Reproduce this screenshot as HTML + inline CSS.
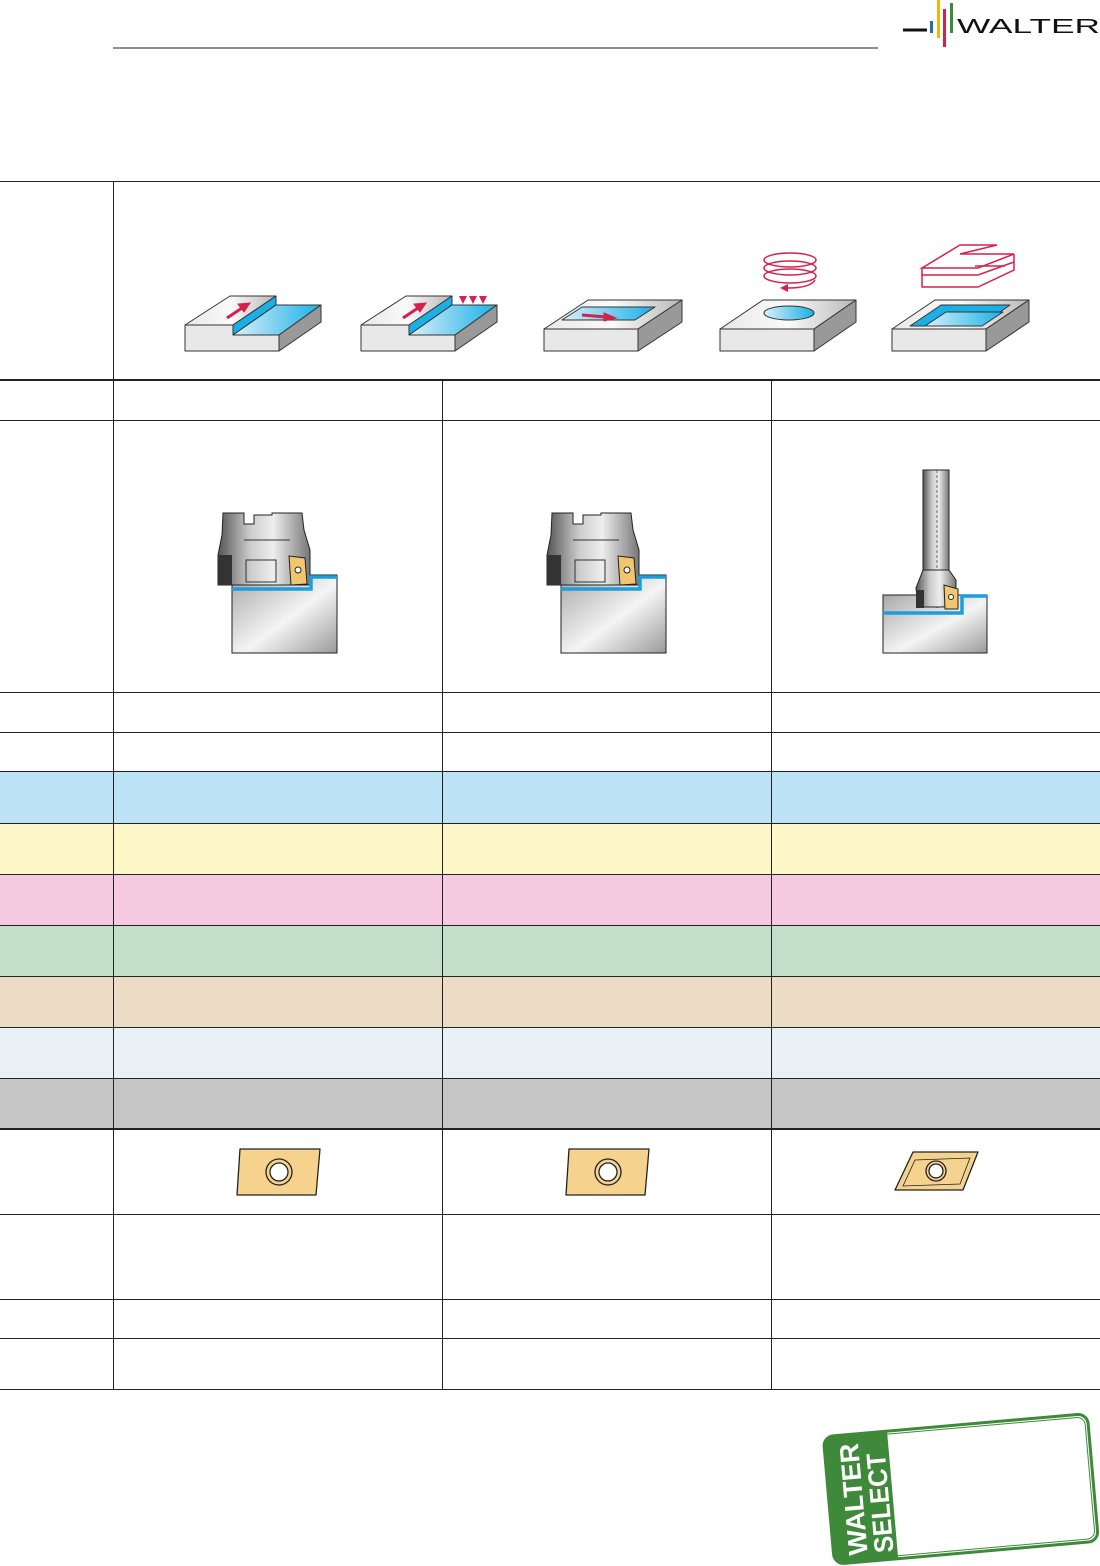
<!DOCTYPE html>
<html><head><meta charset="utf-8"><style>
html,body{margin:0;padding:0;background:#fff;width:1100px;height:1566px;overflow:hidden;font-family:"Liberation Sans",sans-serif}
</style></head><body>
<svg width="1100" height="1566" viewBox="0 0 1100 1566" xmlns="http://www.w3.org/2000/svg">
<defs>
<linearGradient id="top" x1="0" y1="0" x2="1" y2="0"><stop offset="0" stop-color="#e8e8e8"/><stop offset="0.5" stop-color="#fafafa"/><stop offset="1" stop-color="#b8b8b8"/></linearGradient>
<linearGradient id="blue" x1="0" y1="0" x2="1" y2="0"><stop offset="0" stop-color="#d8f0fb"/><stop offset="1" stop-color="#1ab0e6"/></linearGradient>
<linearGradient id="wp" x1="0" y1="0" x2="1" y2="1"><stop offset="0" stop-color="#a8a8a8"/><stop offset="0.55" stop-color="#f4f4f4"/><stop offset="1" stop-color="#9a9a9a"/></linearGradient>
<linearGradient id="metal" x1="0" y1="0" x2="1" y2="0"><stop offset="0" stop-color="#555"/><stop offset="0.35" stop-color="#ccc"/><stop offset="0.6" stop-color="#eee"/><stop offset="1" stop-color="#777"/></linearGradient>
<g id="facemill">
 <rect x="232" y="575" width="105" height="78" fill="url(#wp)" stroke="#222" stroke-width="1"/>
 <path d="M223,513 H244 V524 H254 V515 H272 V513 H302 L304,530 L310,550 V585 H218 V555 L222,535 Z" fill="url(#metal)" stroke="#222"/>
 <rect x="218" y="555" width="14" height="30" fill="#333"/>
 <rect x="246" y="560" width="30" height="22" fill="none" stroke="#333"/>
 <line x1="244" y1="540" x2="290" y2="540" stroke="#333"/>
 <path d="M289,556 L305,558 L307,584 L291,585 Z" fill="#f2c66e" stroke="#222"/>
 <circle cx="298" cy="570" r="3" fill="#fff" stroke="#222"/>
 <path d="M232,589 H311 V577 H337" fill="none" stroke="#1a9fdc" stroke-width="3.5"/>
</g>
</defs>

<!-- header -->
<line x1="113" y1="48" x2="878" y2="48" stroke="#222" stroke-width="1"/>
<line x1="903" y1="30" x2="927" y2="30" stroke="#111" stroke-width="3"/>
<rect x="930" y="21" width="3" height="12" fill="#1f6fb6"/>
<rect x="937" y="0" width="3" height="38" fill="#f3b700"/>
<rect x="943" y="9" width="3" height="38" fill="#d6214c"/>
<rect x="950" y="3" width="3" height="30" fill="#3e8a3a"/>
<text x="957" y="33" font-size="20" fill="#111" textLength="143" lengthAdjust="spacingAndGlyphs">WALTER</text>

<!-- colored rows -->
<rect x="0" y="771" width="1100" height="52" fill="#bde3f6"/>
<rect x="0" y="823" width="1100" height="51" fill="#fef8c8"/>
<rect x="0" y="874" width="1100" height="51" fill="#f5c9df"/>
<rect x="0" y="925" width="1100" height="51" fill="#c3e0c8"/>
<rect x="0" y="976" width="1100" height="51" fill="#ecdbc5"/>
<rect x="0" y="1027" width="1100" height="51" fill="#eaf1f6"/>
<rect x="0" y="1078" width="1100" height="51" fill="#c6c6c6"/>

<!-- grid -->
<g stroke="#222" stroke-width="1">
<line x1="0" y1="181.5" x2="1100" y2="181.5"/>
<line x1="0" y1="380" x2="1100" y2="380" stroke-width="2"/>
<line x1="0" y1="420.5" x2="1100" y2="420.5"/>
<line x1="0" y1="692.5" x2="1100" y2="692.5"/>
<line x1="0" y1="732.5" x2="1100" y2="732.5"/>
<line x1="0" y1="771.5" x2="1100" y2="771.5"/>
<line x1="0" y1="823.5" x2="1100" y2="823.5"/>
<line x1="0" y1="874.5" x2="1100" y2="874.5"/>
<line x1="0" y1="925.5" x2="1100" y2="925.5"/>
<line x1="0" y1="976.5" x2="1100" y2="976.5"/>
<line x1="0" y1="1027.5" x2="1100" y2="1027.5"/>
<line x1="0" y1="1078.5" x2="1100" y2="1078.5"/>
<line x1="0" y1="1129" x2="1100" y2="1129" stroke-width="2"/>
<line x1="0" y1="1214.5" x2="1100" y2="1214.5"/>
<line x1="0" y1="1299.5" x2="1100" y2="1299.5"/>
<line x1="0" y1="1338.5" x2="1100" y2="1338.5"/>
<line x1="0" y1="1389.5" x2="1100" y2="1389.5"/>
<line x1="113.5" y1="181" x2="113.5" y2="1390"/>
<line x1="442.5" y1="380" x2="442.5" y2="1390"/>
<line x1="771.5" y1="380" x2="771.5" y2="1390"/>
</g>

<!-- operation icons -->
<g stroke="#333" stroke-width="1" stroke-linejoin="round">
 <polygon points="185,325 230,296 276,296 233,325" fill="url(#top)"/>
 <polygon points="233,325 276,296 276,305 233,335" fill="#1ab0e6"/>
 <polygon points="233,335 276,305 321,305 279,335" fill="url(#blue)"/>
 <polygon points="279,335 321,305 321,322 279,351" fill="#999"/>
 <polygon points="185,325 233,325 233,335 279,335 279,351 185,351" fill="#e8e8e8"/>
 <polygon points="361,325 406,296 452,296 409,325" fill="url(#top)"/>
 <polygon points="409,325 452,296 452,305 409,335" fill="#1ab0e6"/>
 <polygon points="409,335 452,305 497,305 455,335" fill="url(#blue)"/>
 <polygon points="455,335 497,305 497,322 455,351" fill="#999"/>
 <polygon points="361,325 409,325 409,335 455,335 455,351 361,351" fill="#e8e8e8"/>
 <polygon points="544,329 588,300 682,300 638,329" fill="url(#top)"/>
 <polygon points="562,320 582,307 655,307 635,320" fill="url(#blue)"/>
 <polygon points="638,329 682,300 682,322 638,351" fill="#999"/>
 <rect x="544" y="329" width="94" height="22" fill="#e8e8e8"/>
 <polygon points="720,329 763,300 856,300 814,329" fill="url(#top)"/>
 <ellipse cx="789" cy="313" rx="25" ry="7" fill="url(#blue)"/>
 <polygon points="814,329 856,300 856,322 814,351" fill="#999"/>
 <rect x="720" y="329" width="94" height="22" fill="#e8e8e8"/>
 <polygon points="892,329 935,300 1029,300 986,329" fill="url(#top)"/>
 <polygon points="910,326 941,305 1010,305 980,326" fill="#1ab0e6"/>
 <polygon points="925,326 946,312 1003,312 982,326" fill="url(#blue)"/>
 <polygon points="986,329 1029,300 1029,322 986,351" fill="#999"/>
 <rect x="892" y="329" width="94" height="22" fill="#e8e8e8"/>
</g>
<g fill="#d6214c" stroke="#d6214c">
 <line x1="227" y1="318" x2="245" y2="306" stroke-width="3"/><polygon points="250,303 238,304 244,312"/>
 <line x1="403" y1="318" x2="421" y2="306" stroke-width="3"/><polygon points="426,303 414,304 420,312"/>
 <polygon points="459,296 467,296 463,304" stroke="none"/><polygon points="469,296 477,296 473,304" stroke="none"/><polygon points="479,296 487,296 483,304" stroke="none"/>
 <line x1="582" y1="315" x2="606" y2="317" stroke-width="3"/><polygon points="616,318 604,313 604,321"/>
 <g fill="none" stroke-width="1.5">
  <ellipse cx="790" cy="260" rx="26" ry="7"/><ellipse cx="790" cy="268" rx="26" ry="7"/><ellipse cx="790" cy="276" rx="26" ry="7"/>
  <path d="M815,280 Q810,288 788,288"/>
  <path d="M997,245 H960 L922,268 H978 L1014,254 H960 Z"/>
  <path d="M922,268 V275 H978 L1014,262"/>
  <path d="M922,275 V287 H978 L1014,270 V262"/>
  <path d="M1014,254 V262"/>
  <path d="M975,266 H1005"/>
 </g>
 <polygon points="780,288 788,284 788,292" stroke="none"/>
</g>

<!-- tools -->
<use href="#facemill"/>
<use href="#facemill" x="329"/>
<g>
 <rect x="883" y="595" width="104" height="58" fill="url(#wp)" stroke="#222"/>
 <rect x="923" y="470" width="26" height="100" fill="url(#metal)" stroke="#222"/>
 <line x1="937" y1="470" x2="937" y2="608" stroke="#333" stroke-dasharray="3,2" stroke-width="0.7"/>
 <path d="M923,570 H949 L956,580 V605 L942,607 H918 L916,588 Z" fill="url(#metal)" stroke="#222"/>
 <rect x="916" y="590" width="8" height="18" fill="#333"/>
 <path d="M944,585 L958,589 L958,609 L945,609 Z" fill="#f2c66e" stroke="#222"/>
 <circle cx="951" cy="597" r="2.5" fill="#fff" stroke="#222"/>
 <path d="M883,613 H962 V596 H987" fill="none" stroke="#1a9fdc" stroke-width="3.5"/>
</g>

<!-- inserts -->
<g stroke="#222" stroke-width="1.3">
 <path d="M240,1149 H320 L316,1195 H237 Z" fill="#f5d28e" stroke-linejoin="round"/>
 <circle cx="279" cy="1172" r="13" fill="#f5d28e"/><circle cx="279" cy="1172" r="9" fill="#fff"/>
 <path d="M569,1149 H649 L645,1195 H566 Z" fill="#f5d28e" stroke-linejoin="round"/>
 <circle cx="608" cy="1172" r="13" fill="#f5d28e"/><circle cx="608" cy="1172" r="9" fill="#fff"/>
 <path d="M913,1152 H978 L963,1190 H895 Z" fill="#f5d28e" stroke-linejoin="round"/>
 <path d="M915,1160 L970,1158 L960,1184 L903,1186 Z" fill="none" stroke-width="0.8"/>
 <circle cx="936" cy="1171" r="10" fill="#f5d28e"/><circle cx="936" cy="1171" r="7" fill="#fff"/>
</g>

<!-- Walter select badge -->
<g transform="rotate(-5 960 1485)">
 <rect x="828" y="1425" width="265" height="128" rx="10" fill="#fff" stroke="#3e8a3a" stroke-width="3"/>
 <rect x="831" y="1428" width="259" height="122" rx="8" fill="none" stroke="#3e8a3a" stroke-width="1"/>
 <path d="M838,1425 H892 V1553 H838 Q828,1553 828,1543 V1435 Q828,1425 838,1425 Z" fill="#3e8a3a"/>
 <text transform="translate(862 1546) rotate(-90)" font-size="27" font-weight="bold" fill="#fff" textLength="112" lengthAdjust="spacingAndGlyphs">WALTER</text>
 <text transform="translate(888 1546) rotate(-90)" font-size="27" font-weight="bold" fill="#fff" textLength="100" lengthAdjust="spacingAndGlyphs">SELECT</text>
</g>
</svg>
</body></html>
